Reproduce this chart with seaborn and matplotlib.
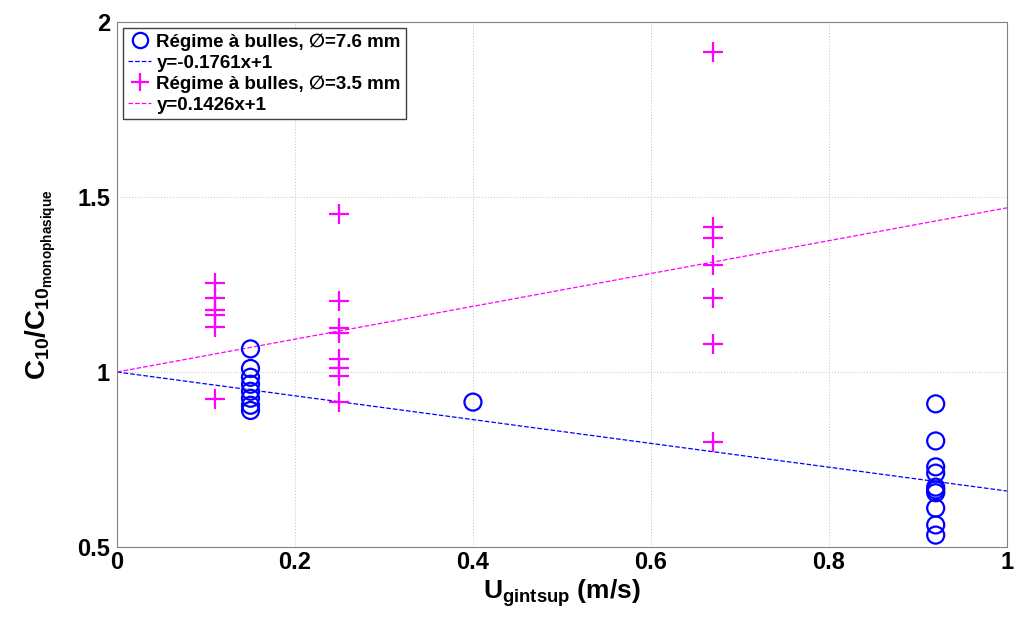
import numpy as np
import pandas as pd
import matplotlib
matplotlib.use("Agg")
import matplotlib.pyplot as plt
from matplotlib.lines import Line2D
import seaborn as sns

# données
x_76 = [0.15] * 8 + [0.40] + [0.92] * 10
y_76 = [1.066, 1.01, 0.985, 0.965, 0.945, 0.925, 0.905, 0.89,
        0.914,
        0.909, 0.803, 0.729, 0.711, 0.671, 0.663, 0.655, 0.611, 0.563, 0.534]
x_35 = [0.11] * 6 + [0.25] * 8 + [0.67] * 7
y_35 = [1.254, 1.211, 1.177, 1.163, 1.129, 0.923,
        1.451, 1.203, 1.126, 1.11, 1.037, 1.011, 0.99, 0.914,
        1.914, 1.414, 1.383, 1.306, 1.211, 1.08, 0.80]
# pentes des droites tracées (les étiquettes de la légende sont celles de l'original)
pente_76 = -0.34
pente_35 = 0.469
labels = ["Régime à bulles, \u2205=7.6 mm", "y=-0.1761x+1",
          "Régime à bulles, \u2205=3.5 mm", "y=0.1426x+1"]
x_ticks = [0, 0.2, 0.4, 0.6, 0.8, 1]
y_ticks = [0.5, 1, 1.5, 2]

sns.set_style("white")
plt.rcParams["font.family"] = ["Liberation Sans", "DejaVu Sans"]
plt.rcParams["text.color"] = "black"
plt.rcParams["axes.labelcolor"] = "black"
plt.rcParams["xtick.color"] = "black"
plt.rcParams["ytick.color"] = "black"
plt.rcParams["mathtext.fontset"] = "custom"
plt.rcParams["mathtext.bf"] = "Liberation Sans:bold"
plt.rcParams["mathtext.rm"] = "Liberation Sans:bold"
plt.rcParams["mathtext.default"] = "bf"

df76 = pd.DataFrame({"x": x_76, "y": y_76})
df35 = pd.DataFrame({"x": x_35, "y": y_35})
xx = np.array([0.0, 1.0])
fit = pd.DataFrame({"x": np.concatenate([xx, xx]),
                    "y": np.concatenate([pente_76 * xx + 1, pente_35 * xx + 1]),
                    "serie": ["a", "a", "b", "b"]})

fig = plt.figure(figsize=(10.15, 6.25), dpi=100)
ax = fig.add_axes([0.1153, 0.1248, 0.8767, 0.840])

sns.scatterplot(data=df76, x="x", y="y", marker="o", s=150, facecolors="none",
                edgecolor="#0000ff", linewidth=1.6, ax=ax, zorder=3)
sns.scatterplot(data=df35, x="x", y="y", marker="+", s=190, color="#ff00ff",
                linewidth=1.6, ax=ax, zorder=3)
sns.lineplot(data=fit, x="x", y="y", hue="serie", palette=["#0000ff", "#ff00ff"],
             linestyle="--", linewidth=0.9, legend=False, ax=ax, zorder=2)

ax.set_xlim(0, 1)
ax.set_ylim(0.5, 2)
ax.set_xticks(x_ticks)
ax.set_xticklabels(["0", "0.2", "0.4", "0.6", "0.8", "1"])
ax.set_yticks(y_ticks)
ax.set_yticklabels(["0.5", "1", "1.5", "2"])
ax.grid(True, linestyle=(0, (1, 2)), color="#c0c0c0", linewidth=0.7)
for s in ax.spines.values():
    s.set_color("#808080")
ax.tick_params(axis="x", labelsize=17, length=0, pad=3)
ax.tick_params(axis="y", labelsize=17, length=0, pad=5)
for t in ax.get_xticklabels() + ax.get_yticklabels():
    t.set_fontweight("bold")

ax.set_xlabel(r"$U_{gintsup}$ (m/s)", fontsize=19, fontweight="bold", labelpad=2)
ax.set_ylabel(r"$C_{10}/C_{10_{monophasique}}$", fontsize=20, labelpad=14)

handles = [
    Line2D([], [], marker="o", linestyle="none", markerfacecolor="none",
           markeredgecolor="#0000ff", markersize=11, markeredgewidth=1.6),
    Line2D([], [], color="#0000ff", linestyle="--", linewidth=0.9),
    Line2D([], [], marker="+", linestyle="none", color="#ff00ff",
           markersize=13, markeredgewidth=1.6),
    Line2D([], [], color="#ff00ff", linestyle="--", linewidth=0.9),
]
leg = ax.legend(handles, labels, loc="upper left", bbox_to_anchor=(0.0, 1.0),
                prop={"weight": "bold", "size": 13.5}, handlelength=1.2,
                handletextpad=0.3, labelspacing=0.2, borderpad=0.3,
                fancybox=False, framealpha=1, borderaxespad=0.3)
leg.get_frame().set_edgecolor("#404040")

fig.savefig("out.png", dpi=100)
